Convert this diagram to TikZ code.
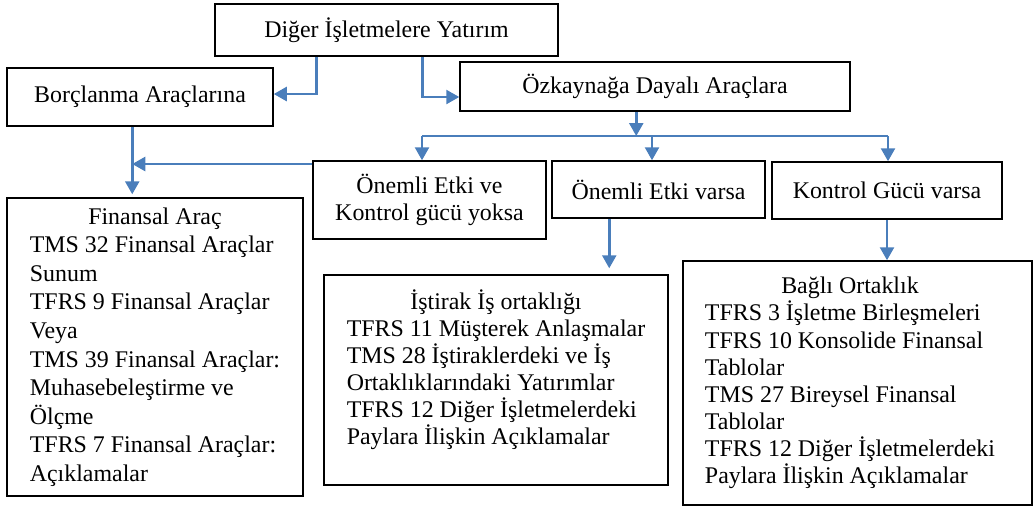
\documentclass[tikz,border=0pt]{standalone}
\usepackage{fontspec}
\setmainfont{Liberation Serif}
\usetikzlibrary{arrows.meta,calc}
\definecolor{arrblue}{RGB}{74,126,187}
\newcommand{\mylines}[2][0pt]{\vbox{\lineskiplimit=-1000pt\relax\halign{##\hfil\cr #2\crcr}\kern#1}}
\newcommand{\ctr}[1]{\omit\hfil#1\hfil}
\begin{document}
\begin{tikzpicture}[x=1pt,y=-1pt,
  box/.style={draw=black, line width=1.5pt, inner sep=0pt, fill=white,
    font=\fontsize{23.9}{27.5}\selectfont},
  bigbox/.style={box, font=\fontsize{23.9}{27.1}\selectfont},
  finbox/.style={box, font=\fontsize{23.9}{28.6}\selectfont},
  conn/.style={draw=arrblue, line width=2.5pt, -{Triangle[length=13pt,width=14pt]}},
  thinln/.style={draw=arrblue, line width=1.6pt}]
\useasboundingbox (0,0) rectangle (1034,507);

% boxes
\node[box, minimum width=343pt, minimum height=52pt] (top) at (386.5,30) {Diğer İşletmelere Yatırım};
\node[box, minimum width=266pt, minimum height=58pt] (borc) at (140,97) {Borçlanma Araçlarına};
\node[box, minimum width=390pt, minimum height=49pt] (ozk) at (655,86.5) {Özkaynağa Dayalı Araçlara};
\node[box, minimum width=233pt, minimum height=78pt, align=center] (yoksa) at (429.5,200) {Önemli Etki ve\\Kontrol gücü yoksa};
\node[box, minimum width=213pt, minimum height=57pt] (varsa) at (658.5,189.5) {Önemli Etki varsa};
\node[box, minimum width=230pt, minimum height=57pt] (kontrol) at (887,190.5) {Kontrol Gücü varsa};

\node[finbox, minimum width=296pt, minimum height=298pt] (fin) at (155,347) {%
\mylines{\ctr{Finansal Araç}\cr
TMS 32 Finansal Araçlar\cr
Sunum\cr
TFRS 9 Finansal Araçlar\cr
Veya\cr
TMS 39 Finansal Araçlar:\cr
Muhasebeleştirme ve\cr
Ölçme\cr
TFRS 7 Finansal Araçlar:\cr
Açıklamalar}};

\node[bigbox, minimum width=344pt, minimum height=210pt] (istirak) at (496,380) {%
\mylines[21pt]{\ctr{İştirak İş ortaklığı}\cr
TFRS 11 Müşterek Anlaşmalar\cr
TMS 28 İştiraklerdeki ve İş\cr
Ortaklıklarındaki Yatırımlar\cr
TFRS 12 Diğer İşletmelerdeki\cr
Paylara İlişkin Açıklamalar}};

\node[bigbox, minimum width=349pt, minimum height=244pt] (bagli) at (857.5,383) {%
\hbox{\mylines{\ctr{Bağlı Ortaklık}\cr
TFRS 3 İşletme Birleşmeleri\cr
TFRS 10 Konsolide Finansal\cr
Tablolar\cr
TMS 27 Bireysel Finansal\cr
Tablolar\cr
TFRS 12 Diğer İşletmelerdeki\cr
Paylara İlişkin Açıklamalar}\kern15pt}};

% helper coordinates
\coordinate (tl) at ($(top.south west)+(102,0)$);
\coordinate (tr) at ($(top.south west)+(208,0)$);
\coordinate (oz) at ($(ozk.south west)+(177,0)$);
\coordinate (busL) at (422,136);
\coordinate (busM) at (oz |- busL);
\coordinate (busV) at (652,136);
\coordinate (busR) at (888,136);
\coordinate (bv) at ($(borc.south west)+(126,0)$);
\coordinate (vs) at ($(varsa.south west)+(58,0)$);

% connectors
\draw[conn] (tl) |- ([yshift=3pt]borc.east);
\draw[conn] (tr) |- ([yshift=-10.5pt]ozk.west);
\draw[thinln] (busL) -- (busR);
\draw[conn] (oz) -- (busM);
\draw[conn] (busL) -- (busL |- yoksa.north);
\draw[conn] (busV) -- (busV |- varsa.north);
\draw[conn] (busR) -- (busR |- kontrol.north);
\draw[conn] (bv) -- ([yshift=3pt]bv |- fin.north);
\draw[conn] ([yshift=36pt]yoksa.west) -- ([yshift=36pt]yoksa.west -| bv);
\draw[conn] (vs) -- ([yshift=6pt]vs |- istirak.north);
\draw[conn] (kontrol.south) -- (kontrol.south |- bagli.north);
\end{tikzpicture}
\end{document}
